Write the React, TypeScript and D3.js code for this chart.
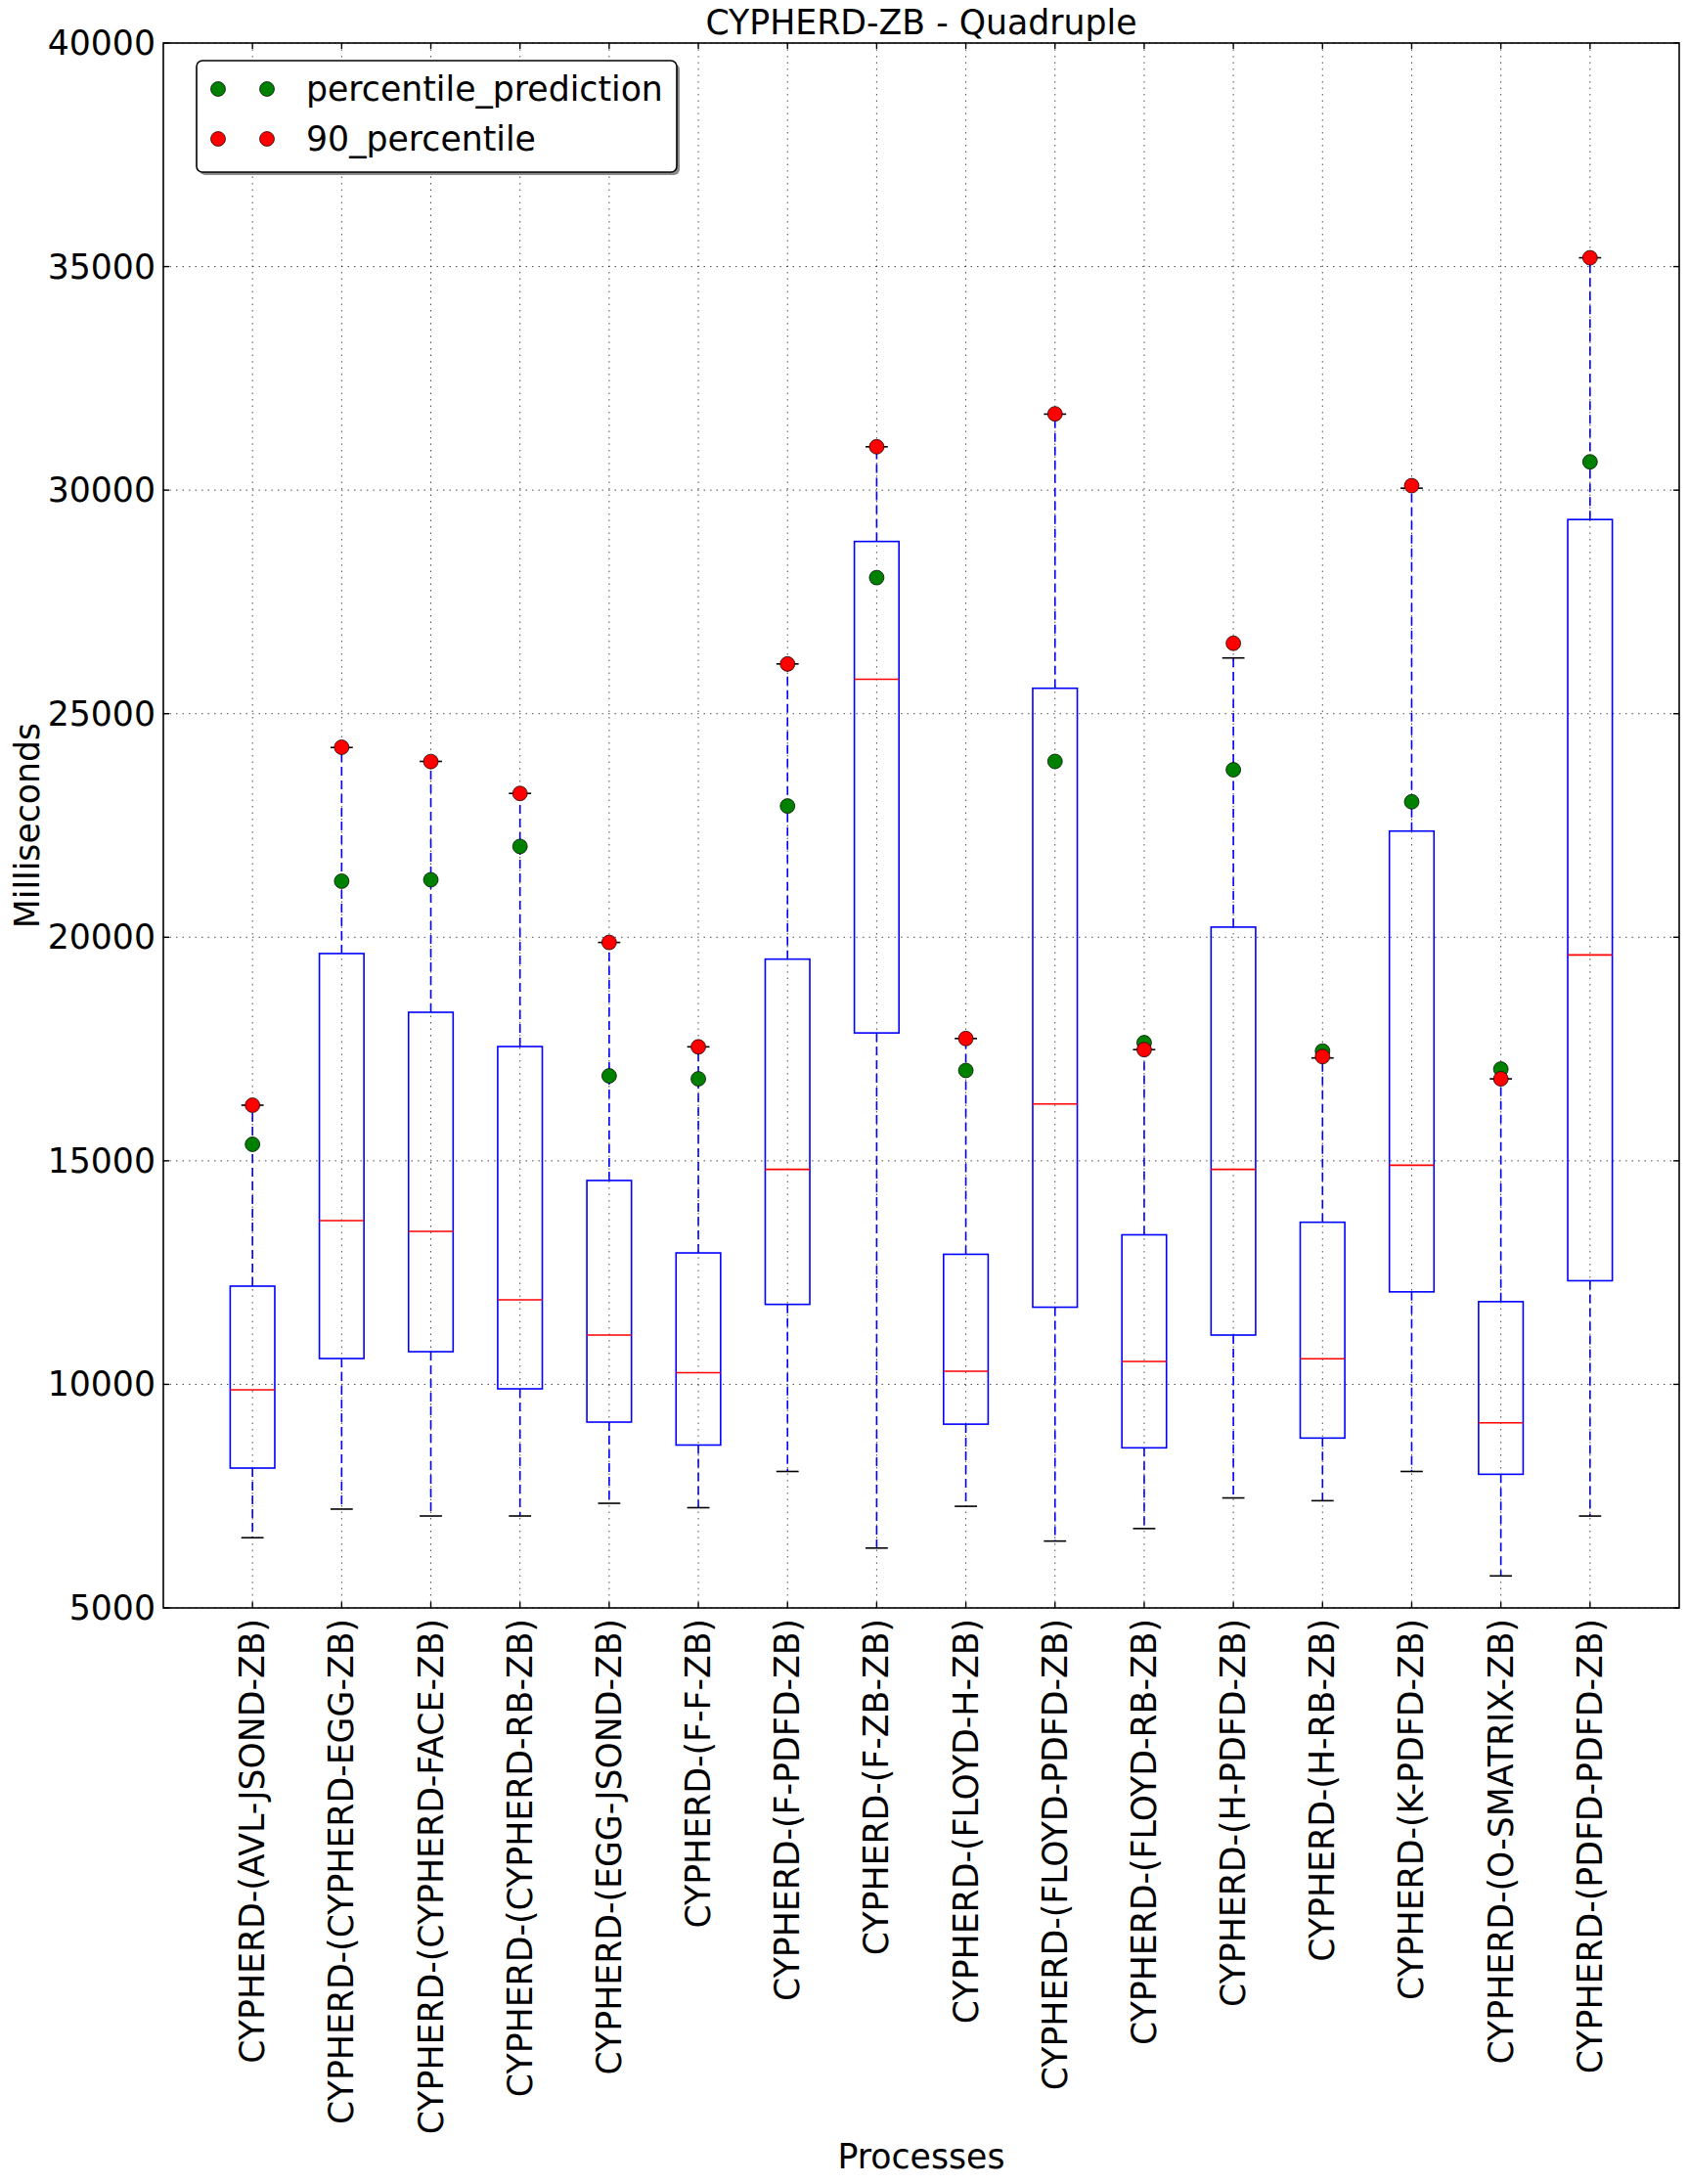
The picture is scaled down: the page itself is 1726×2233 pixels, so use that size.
import { useEffect } from "react";
import * as d3 from "d3";

const categories = [
  "CYPHERD-(AVL-JSOND-ZB)",
  "CYPHERD-(CYPHERD-EGG-ZB)",
  "CYPHERD-(CYPHERD-FACE-ZB)",
  "CYPHERD-(CYPHERD-RB-ZB)",
  "CYPHERD-(EGG-JSOND-ZB)",
  "CYPHERD-(F-F-ZB)",
  "CYPHERD-(F-PDFD-ZB)",
  "CYPHERD-(F-ZB-ZB)",
  "CYPHERD-(FLOYD-H-ZB)",
  "CYPHERD-(FLOYD-PDFD-ZB)",
  "CYPHERD-(FLOYD-RB-ZB)",
  "CYPHERD-(H-PDFD-ZB)",
  "CYPHERD-(H-RB-ZB)",
  "CYPHERD-(K-PDFD-ZB)",
  "CYPHERD-(O-SMATRIX-ZB)",
  "CYPHERD-(PDFD-PDFD-ZB)",
];

const whiskerLow = [6570, 7210, 7056, 7056, 7340, 7242, 8052, 6339, 7273, 6495, 6775, 7460, 7398, 8052, 5716, 7055];
const q1 = [8128, 10578, 10731, 9900, 9156, 8643, 11789, 17860, 9110, 11726, 8581, 11103, 8799, 12069, 7989, 12318];
const median = [9878, 13663, 13422, 11891, 11103, 10262, 14809, 25769, 10293, 16272, 10511, 14809, 10574, 14902, 9141, 19604];
const q3 = [12197, 19636, 18322, 17556, 14560, 12940, 19511, 28852, 12909, 25569, 13345, 20227, 13626, 22375, 11850, 29343];
const whiskerHigh = [16244, 24244, 23933, 23217, 19884, 17549, 26113, 30970, 17735, 31700, 17487, 26247, 17300, 30044, 16833, 35197];
const percentile90 = [16244, 24250, 23930, 23217, 19884, 17549, 26113, 30970, 17735, 31706, 17487, 26575, 17331, 30100, 16833, 35197];
const prediction = [15369, 21255, 21286, 22032, 16900, 16833, 22935, 28043, 17021, 23933, 17642, 23746, 17455, 23030, 17051, 30634];

const yTicks = [5000, 10000, 15000, 20000, 25000, 30000, 35000, 40000];

const W = 1726;
const H = 2233;
const LEFT = 167;
const RIGHT = 1717;
const TOP = 44;
const BOTTOM = 1644;
const FONT = "DejaVu Sans, Verdana, sans-serif";
const FS = 34.7;

export default function App() {
  useEffect(() => {
    document.body.style.margin = "0";
  }, []);

  const x = d3.scaleLinear().domain([0, 17]).range([LEFT, RIGHT]);
  const y = d3.scaleLinear().domain([5000, 40000]).range([BOTTOM, TOP]);
  const boxW = x(0.25) - x(0);
  const capW = x(0.125) - x(0);
  const positions = categories.map((_, i) => i + 1);

  return (
    <svg width={W} height={H} style={{ display: "block", background: "#fff" }}>
      <rect x={0} y={0} width={W} height={H} fill="#fff" />

      {/* grid */}
      {yTicks.map((t) => (
        <line
          key={"gy" + t}
          x1={LEFT}
          x2={RIGHT}
          y1={y(t)}
          y2={y(t)}
          stroke="#000"
          strokeOpacity={0.7}
          strokeWidth={1}
          strokeDasharray="1.5,5"
        />
      ))}
      {positions.map((p) => (
        <line
          key={"gx" + p}
          x1={x(p)}
          x2={x(p)}
          y1={TOP}
          y2={BOTTOM}
          stroke="#000"
          strokeOpacity={0.7}
          strokeWidth={1}
          strokeDasharray="1.5,5"
        />
      ))}

      {/* boxes */}
      {positions.map((p, i) => {
        const cx = x(p);
        return (
          <g key={"b" + i}>
            <line x1={cx} x2={cx} y1={y(q3[i])} y2={y(whiskerHigh[i])} stroke="#0000ff" strokeWidth={1.6} strokeDasharray="9,5" />
            <line x1={cx} x2={cx} y1={y(q1[i])} y2={y(whiskerLow[i])} stroke="#0000ff" strokeWidth={1.6} strokeDasharray="9,5" />
            <line x1={cx - capW} x2={cx + capW} y1={y(whiskerHigh[i])} y2={y(whiskerHigh[i])} stroke="#000" strokeWidth={1.6} />
            <line x1={cx - capW} x2={cx + capW} y1={y(whiskerLow[i])} y2={y(whiskerLow[i])} stroke="#000" strokeWidth={1.6} />
            <rect
              x={cx - boxW}
              y={y(q3[i])}
              width={boxW * 2}
              height={y(q1[i]) - y(q3[i])}
              fill="none"
              stroke="#0000ff"
              strokeWidth={1.6}
            />
            <line x1={cx - boxW} x2={cx + boxW} y1={y(median[i])} y2={y(median[i])} stroke="#ff0000" strokeWidth={1.6} />
          </g>
        );
      })}

      {/* markers */}
      {positions.map((p, i) => (
        <circle key={"g" + i} cx={x(p)} cy={y(prediction[i])} r={7.5} fill="#008000" stroke="#000" strokeWidth={0.7} />
      ))}
      {positions.map((p, i) => (
        <circle key={"r" + i} cx={x(p)} cy={y(percentile90[i])} r={7.5} fill="#ff0000" stroke="#000" strokeWidth={0.7} />
      ))}

      {/* frame */}
      <rect x={LEFT} y={TOP} width={RIGHT - LEFT} height={BOTTOM - TOP} fill="none" stroke="#000" strokeWidth={1.6} />

      {/* y ticks */}
      {yTicks.map((t) => (
        <g key={"yt" + t}>
          <line x1={LEFT} x2={LEFT + 6} y1={y(t)} y2={y(t)} stroke="#000" strokeWidth={1.4} />
          <line x1={RIGHT} x2={RIGHT - 6} y1={y(t)} y2={y(t)} stroke="#000" strokeWidth={1.4} />
          <text x={159} y={y(t)} textAnchor="end" dominantBaseline="central" fontFamily={FONT} fontSize={FS} fill="#000">
            {t}
          </text>
        </g>
      ))}

      {/* x ticks */}
      {positions.map((p, i) => (
        <g key={"xt" + p}>
          <line x1={x(p)} x2={x(p)} y1={BOTTOM} y2={BOTTOM - 6} stroke="#000" strokeWidth={1.4} />
          <line x1={x(p)} x2={x(p)} y1={TOP} y2={TOP + 6} stroke="#000" strokeWidth={1.4} />
          <text
            transform={`translate(${x(p)},${BOTTOM + 11}) rotate(-90)`}
            textAnchor="end"
            dominantBaseline="central"
            fontFamily={FONT}
            fontSize={FS}
            fill="#000"
          >
            {categories[i]}
          </text>
        </g>
      ))}

      {/* title and axis labels */}
      <text x={(LEFT + RIGHT) / 2} y={35} textAnchor="middle" fontFamily={FONT} fontSize={FS} fill="#000">
        CYPHERD-ZB - Quadruple
      </text>
      <text x={(LEFT + RIGHT) / 2} y={2217} textAnchor="middle" fontFamily={FONT} fontSize={FS} fill="#000">
        Processes
      </text>
      <text
        transform={`translate(40,${(TOP + BOTTOM) / 2}) rotate(-90)`}
        textAnchor="middle"
        fontFamily={FONT}
        fontSize={FS}
        fill="#000"
      >
        Milliseconds
      </text>

      {/* legend */}
      <g>
        <rect x={204} y={65} width={491} height={114} rx={6} fill="#000" fillOpacity={0.45} />
        <rect x={201} y={62} width={491} height={114} rx={6} fill="#fff" stroke="#000" strokeWidth={1.6} />
        {[
          { label: "percentile_prediction", color: "#008000", cy: 91 },
          { label: "90_percentile", color: "#ff0000", cy: 142 },
        ].map((e) => (
          <g key={e.label}>
            <circle cx={223} cy={e.cy} r={7.5} fill={e.color} stroke="#000" strokeWidth={0.7} />
            <circle cx={273} cy={e.cy} r={7.5} fill={e.color} stroke="#000" strokeWidth={0.7} />
            <text x={313} y={e.cy} dominantBaseline="central" fontFamily={FONT} fontSize={FS} fill="#000">
              {e.label}
            </text>
          </g>
        ))}
      </g>
    </svg>
  );
}
